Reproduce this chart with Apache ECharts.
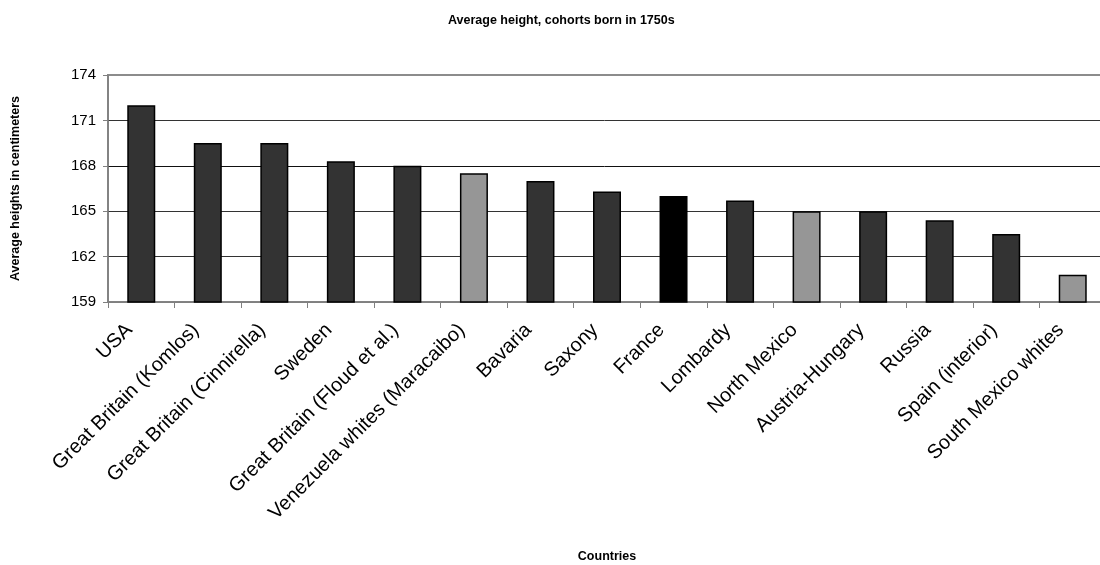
<!DOCTYPE html>
<html>
<head>
<meta charset="utf-8">
<script src="https://cdn.jsdelivr.net/npm/echarts@6/dist/echarts.min.js"></script>
<style>html,body{margin:0;padding:0;background:#fff}#c{width:1100px;height:565px}</style>
</head>
<body>
<div id="c"></div>
<script>
const titleText = 'Average height, cohorts born in 1750s';
const yAxisTitle = 'Average heights in centimeters';
const xAxisTitle = 'Countries';
const categories = ['USA','Great Britain (Komlos)','Great Britain (Cinnirella)','Sweden','Great Britain (Floud et al.)','Venezuela whites (Maracaibo)','Bavaria','Saxony','France','Lombardy','North Mexico','Austria-Hungary','Russia','Spain (interior)','South Mexico whites'];
const heights = [172.0,169.5,169.5,168.3,168.0,167.5,167.0,166.3,166.0,165.7,165.0,165.0,164.4,163.5,160.8];
const latinAmerica = ['Venezuela whites (Maracaibo)','North Mexico','South Mexico whites'];
const highlighted = ['France'];
const yMin = 159, yMax = 174, yStep = 3;

const FONT = '"Liberation Sans", Arial, sans-serif';
const chart = echarts.init(document.getElementById('c'), null, {renderer:'canvas'});
chart.setOption({
  animation:false,
  backgroundColor:'#fff',
  title:{text:titleText,left:443,top:9,textStyle:{fontFamily:FONT,fontSize:12.5,fontWeight:'bold',color:'#000'}},
  grid:{left:108,top:75,right:-6,bottom:263,show:true,borderColor:'#8c8c8c',borderWidth:2,containLabel:false,outerBoundsMode:'none'},
  xAxis:{
    type:'category',data:categories,
    name:xAxisTitle,nameLocation:'middle',nameGap:248,
    nameTextStyle:{fontFamily:FONT,fontSize:12.5,fontWeight:'bold',color:'#000'},
    axisLine:{lineStyle:{color:'#808080',width:1.5}},
    axisTick:{show:true,alignWithLabel:false,length:6,lineStyle:{color:'#808080'}},
    axisLabel:{interval:0,rotate:45,margin:13,padding:[0,17,0,0],fontFamily:FONT,fontSize:20,color:'#000'},
    splitLine:{show:false}
  },
  yAxis:{
    type:'value',min:yMin,max:yMax,interval:yStep,
    name:yAxisTitle,nameLocation:'middle',nameGap:86,
    nameTextStyle:{fontFamily:FONT,fontSize:12.5,fontWeight:'bold',color:'#000'},
    axisLine:{show:true,lineStyle:{color:'#808080',width:1.5}},
    axisTick:{show:true,length:5,lineStyle:{color:'#808080'}},
    axisLabel:{margin:12,fontFamily:FONT,fontSize:15,color:'#000'},
    splitLine:{show:true,lineStyle:{color:['#808080','#333','#333','#111','#333','#8c8c8c'],width:1}}
  },
  series:[{
    type:'bar',barWidth:28,
    data:heights.map((v,i)=>({value:v,itemStyle:{color: highlighted.includes(categories[i]) ? '#000' : (latinAmerica.includes(categories[i]) ? '#969696' : '#333333')}})),
    itemStyle:{borderColor:'#000',borderWidth:1.5}
  }]
});
</script>
</body>
</html>
